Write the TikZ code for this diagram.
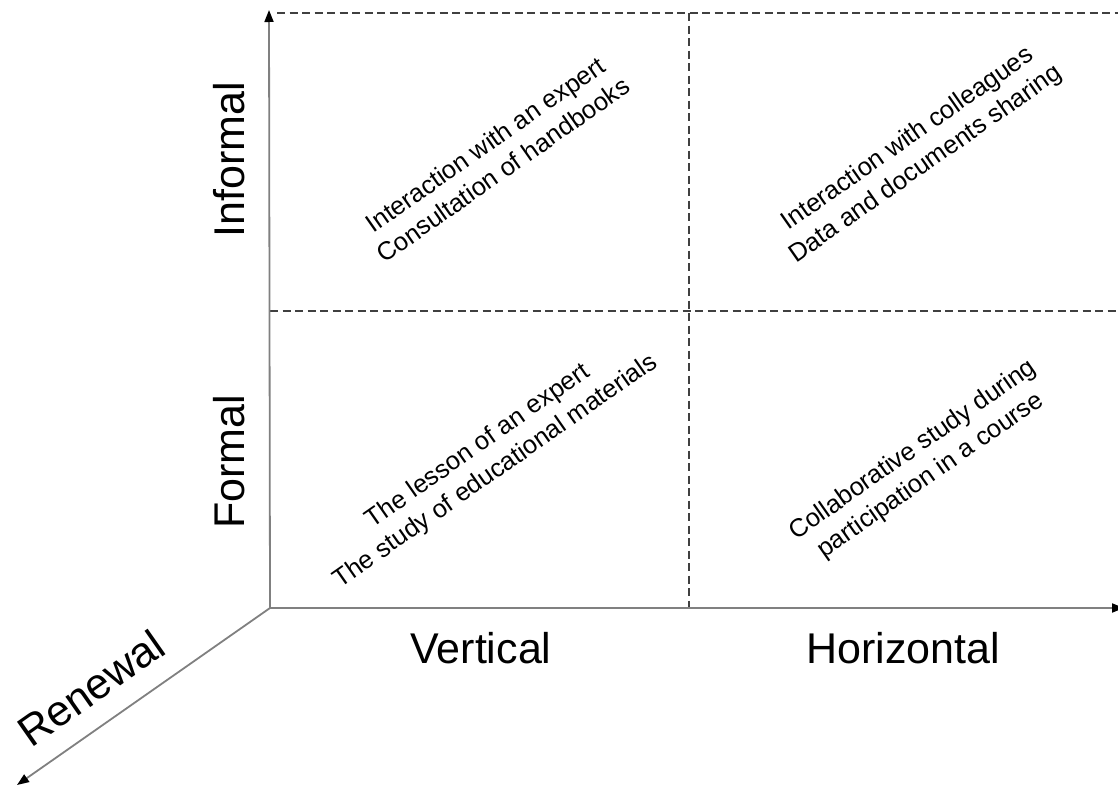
\documentclass[tikz,border=0pt]{standalone}
\usepackage{fontspec}
\setmainfont{Liberation Sans}
\usetikzlibrary{arrows.meta}
\begin{document}
\begin{tikzpicture}[x=1pt,y=-1pt,
  axis/.style={draw=black!50,line width=1.8pt,-{Triangle[length=12pt,width=9pt,fill=black,color=black]}},
  grid/.style={draw=black!75,line width=2pt,dash pattern=on 8pt off 4.5pt},
  axlabel/.style={font=\fontsize{43}{50}\selectfont,inner sep=0pt},
  cell/.style={font=\fontsize{25.5}{31}\selectfont,align=center,rotate=35,inner sep=0pt}]
\useasboundingbox (0,0) rectangle (1118,787);
% axes
\coordinate (O) at (270,608);
\coordinate (ytop) at (269,10);
\coordinate (xend) at (1124,608);
\coordinate (zend) at (17,785);
% dashed grid
\coordinate (tl) at (277,13);
\coordinate (tr) at (1118,13);
\coordinate (ml) at (270,311);
\coordinate (mr) at (1118,311);
\coordinate (vt) at (689,13);
\coordinate (vb) at (689,608);
\draw[grid] (tl) -- (tr);
\draw[grid] (ml) -- (mr);
\draw[grid] (vt) -- (vb);
\draw[axis] (O) -- (ytop);
\draw[axis] (O) -- (xend);
\draw[axis] (O) -- (zend);
% axis labels
\node[axlabel,rotate=90] (inf) at (229,160) {Informal};
\node[axlabel,rotate=90] (frm) at (229,462) {Formal};
\node[axlabel] (ver) at (481,648) {Vertical};
\node[axlabel] (hor) at (903,648) {Horizontal};
\node[axlabel,rotate=35] (ren) at (91,688) {Renewal};
% cell contents
\node[cell] (c1) at (494,157) {Interaction with an expert\\Consultation of handbooks};
\node[cell] (c2) at (917,152) {Interaction with colleagues\\Data and documents sharing};
\node[cell] (c3) at (487,459) {The lesson of an expert\\The study of educational materials};
\node[cell] (c4) at (922,463) {Collaborative study during\\participation in a course};
\end{tikzpicture}
\end{document}
